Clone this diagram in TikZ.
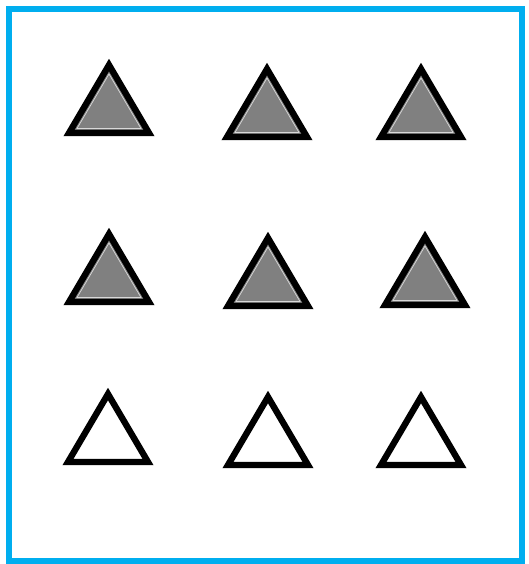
\documentclass[tikz,border=0pt]{standalone}
\usepackage{xcolor}
\definecolor{framecyan}{RGB}{0,174,239}
\definecolor{trigray}{RGB}{128,128,128}
\tikzset{
  tri/.style={draw=black,line width=3.6pt,line join=miter},
  hilite/.style={draw=gray!30,line width=0.4pt}
}

\begin{document}
\begin{tikzpicture}[x=0.02cm,y=-0.02cm]
\useasboundingbox (0,0) rectangle (528,564);
% Frame
\draw[framecyan,line width=3pt] (9,9) rectangle (522,561);

% Filled triangles (rows 1 and 2)
\foreach \cx/\by in {109/133, 267/137, 421/137, 109/302, 268/306, 425/305}{
  \filldraw[tri,fill=trigray] (\cx-40,\by) -- (\cx,\by-68) -- (\cx+40,\by) -- cycle;
  \draw[hilite] (\cx-32,\by-4.5) -- (\cx,\by-59) -- (\cx+32,\by-4.5) -- cycle;
}

% Empty triangles (row 3)
\foreach \cx/\by in {108/462, 268/465, 421/465}{
  \filldraw[tri,fill=white] (\cx-40,\by) -- (\cx,\by-68) -- (\cx+40,\by) -- cycle;
}
\end{tikzpicture}
\end{document}
